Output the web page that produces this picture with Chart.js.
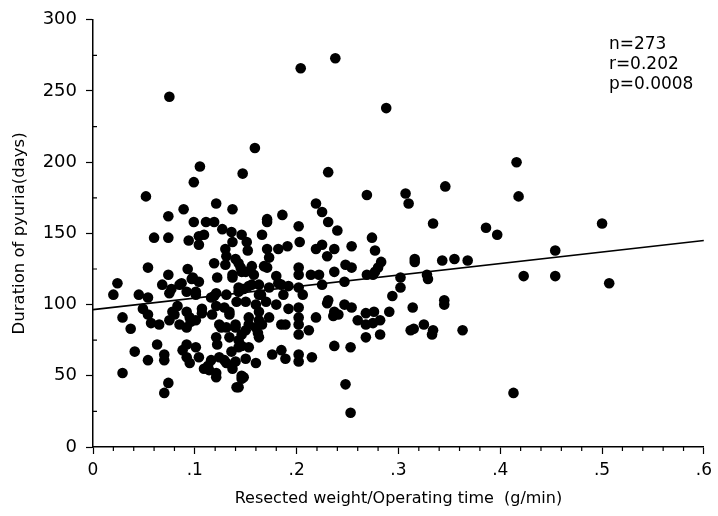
<!DOCTYPE html>
<html>
<head>
<meta charset="utf-8">
<script src="https://cdn.jsdelivr.net/npm/chart.js@4"></script>
<style>
  html, body { margin: 0; padding: 0; background: #fff; }
  #wrap { width: 718px; height: 516px; position: relative; }
</style>
</head>
<body>
<div id="wrap"><canvas id="c"></canvas></div>
<script>
// Resected weight / operating time (g/min) vs duration of pyuria (days), n=273
const weightRate = [
  .075, .159, .204, .238, .288, .416, .346, .418, .334, .386, .397, .500, .454, .343, .355, .368, .423, .454, .507, .329,
  .345, .345, .333, .363, .413, .147, .231, .269, .307, .310, .219, .225, .186, .171, .171, .231, .202, .146, .166, .240,
  .274, .151, .152, .203, .254, .171, .182, .191, .219, .225, .237, .277, .173, .230, .316, .316, .283, .248, .254, .171,
  .202, .202, .280, .277, .237, .143, .150, .158, .180, .214, .222, .269, .275, .302, .302, .328, .247, .225, .202, .185,
  .156, .148, .165, .187, .206, .294, .231, .314, .247, .254, .230, .237, .236, .241, .219, .291, .268, .276, .260, .268,
  .275, .282, .282, .268, .312, .315, .325, .334, .237, .253, .248, .253, .202, .202, .212, .202, .189, .176, .185, .189,
  .202, .202, .215, .160, .148, .143, .146, .153, .160, .162, .052, .105, .099, .074, .089, .121, .137, .099, .111, .119,
  .060, .074, .094, .104, .109, .104, .127, .136, .137, .130, .119, .130, .140, .145, .054, .093, .074, .068, .024, .020,
  .045, .054, .077, .085, .098, .104, .122, .137, .147, .029, .037, .041, .054, .029, .063, .070, .070, .074, .070, .092,
  .101, .092, .095, .104, .109, .116, .121, .114, .124, .129, .122, .137, .146, .141, .049, .054, .057, .065, .075, .080,
  .083, .092, .095, .092, .085, .101, .107, .119, .121, .129, .134, .140, .141, .143, .150, .131, .126, .075, .101, .121,
  .087, .097, .137, .146, .156, .168, .131, .092, .101, .116, .131, .143, .163, .078, .096, .107, .117, .124, .134, .140,
  .153, .163, .166, .163, .146, .134, .121, .088, .143, .143, .153, .163, .173, .182, .192, .150, .160, .170, .180, .192,
  .202, .153, .163, .173, .185, .113, .131, .121, .136, .140, .150, .146
];
const pyuriaDays = [
  246, 210, 266, 273, 238, 200, 183, 176, 157, 154, 149, 157, 138, 131, 132, 131, 120, 120, 115, 118,
  103, 100, 79, 82, 38, 192, 193, 177, 178, 171, 171, 165, 163, 160, 158, 158, 155, 149, 149, 152,
  147, 144, 138, 144, 141, 139, 139, 141, 139, 142, 139, 138, 133, 134, 132, 130, 130, 128, 126, 126,
  126, 121, 126, 123, 123, 129, 123, 121, 120, 121, 121, 121, 121, 119, 112, 121, 116, 114, 112, 114,
  114, 111, 107, 107, 107, 106, 103, 98, 100, 98, 101, 95, 92, 93, 91, 95, 94, 95, 89, 86,
  87, 89, 79, 77, 82, 83, 86, 82, 71, 70, 44, 24, 86, 79, 82, 91, 86, 65, 68, 62,
  65, 60, 63, 59, 49, 42, 71, 70, 84, 80, 176, 197, 186, 162, 167, 171, 167, 158, 158, 158,
  147, 147, 145, 148, 149, 142, 153, 151, 144, 139, 129, 128, 132, 126, 126, 125, 121, 114, 115, 107,
  107, 105, 111, 114, 119, 116, 119, 119, 111, 91, 83, 67, 61, 52, 72, 65, 61, 45, 38, 72,
  70, 63, 59, 63, 55, 61, 52, 54, 63, 61, 72, 55, 50, 42, 97, 93, 87, 86, 89, 93,
  99, 95, 91, 84, 86, 89, 94, 106, 99, 98, 93, 84, 102, 75, 82, 84, 84, 108, 109, 108,
  115, 118, 121, 123, 127, 127, 134, 109, 107, 105, 107, 109, 107, 95, 88, 97, 93, 86, 95, 86,
  91, 95, 86, 77, 79, 77, 77, 68, 70, 112, 113, 114, 112, 115, 113, 102, 100, 102, 100, 97,
  98, 86, 89, 91, 86, 57, 59, 49, 67, 60, 62, 48
];
// regression line end points
const fitX = [0, 0.6];
const fitY = [96.5, 145];
const xTickLabels = ['0', '.1', '.2', '.3', '.4', '.5', '.6'];
const yTickLabels = ['0', '50', '100', '150', '200', '250', '300'];
const statsText = ['n=273', 'r=0.202', 'p=0.0008'];

const FONT = "'DejaVu Sans', sans-serif";

// short minor ticks: x every .02 (downward), y every 25 (inward)
const minorTicks = {
  id: 'minorTicks',
  afterDraw(chart) {
    const { ctx, scales: { x, y } } = chart;
    ctx.save();
    ctx.strokeStyle = '#000';
    ctx.lineWidth = 1.2;
    ctx.beginPath();
    for (let i = 0; i <= 30; i++) {
      if (i % 5 === 0) continue;
      const px = x.getPixelForValue(i * 0.02);
      ctx.moveTo(px, y.bottom);
      ctx.lineTo(px, y.bottom + 4);
    }
    for (let i = 1; i < 12; i += 2) {
      const py = y.getPixelForValue(i * 25);
      ctx.moveTo(x.left, py);
      ctx.lineTo(x.left + 4, py);
    }
    ctx.stroke();
    ctx.restore();
  }
};

const statsLabel = {
  id: 'statsLabel',
  afterDraw(chart) {
    const { ctx, chartArea } = chart;
    ctx.save();
    ctx.fillStyle = '#000';
    ctx.font = `17px ${FONT}`;
    ctx.textBaseline = 'middle';
    statsText.forEach((t, i) => ctx.fillText(t, chartArea.right - 95, chartArea.top + 25 + i * 20));
    ctx.restore();
  }
};

new Chart(document.getElementById('c'), {
  type: 'scatter',
  data: {
    datasets: [
      {
        data: weightRate.map((v, i) => ({ x: v, y: pyuriaDays[i] })),
        backgroundColor: '#000',
        borderWidth: 0,
        pointRadius: 5.3,
      },
      {
        type: 'line',
        data: fitX.map((v, i) => ({ x: v, y: fitY[i] })),
        borderColor: '#000',
        borderWidth: 1.6,
        pointRadius: 0,
        fill: false,
      },
    ],
  },
  options: {
    responsive: true,
    maintainAspectRatio: false,
    animation: false,
    layout: { padding: { top: 17, right: 10, left: 0, bottom: 0 } },
    plugins: { legend: { display: false }, tooltip: { enabled: false } },
    scales: {
      x: {
        type: 'linear', min: 0, max: 0.6,
        afterFit: (s) => { s.height = 69; },
        ticks: {
          stepSize: 0.1, color: '#000', padding: 6,
          font: { family: FONT, size: 17 },
          callback: (v) => xTickLabels[Math.round(v * 10)],
        },
        grid: { drawOnChartArea: false, drawTicks: true, tickLength: 7, tickColor: '#000', tickWidth: 1.2 },
        border: { color: '#000', width: 1.5 },
        title: { display: true, text: 'Resected weight/Operating time  (g/min)', color: '#000', font: { family: FONT, size: 16 }, padding: { top: 0, bottom: 8 } },
      },
      y: {
        type: 'linear', min: 0, max: 300,
        afterFit: (s) => { s.width = 93; },
        ticks: {
          stepSize: 50, color: '#000', padding: 9,
          font: { family: FONT, size: 18 },
          callback: (v) => yTickLabels[Math.round(v / 50)],
        },
        grid: { drawOnChartArea: false, drawTicks: true, tickLength: 7, tickColor: '#000', tickWidth: 1.2 },
        border: { color: '#000', width: 1.5 },
        title: { display: true, text: 'Duration of pyuria(days)', color: '#000', font: { family: FONT, size: 16.5 }, padding: { top: 10, bottom: 4 } },
      },
    },
  },
  plugins: [minorTicks, statsLabel],
});
</script>
</body>
</html>
